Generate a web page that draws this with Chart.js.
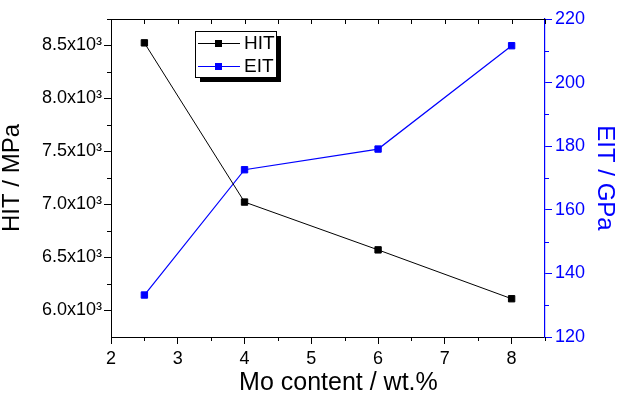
<!DOCTYPE html>
<html>
<head>
<meta charset="utf-8">
<script src="https://cdn.jsdelivr.net/npm/chart.js@4/dist/chart.umd.min.js"></script>
<style>
  html, body { margin: 0; padding: 0; background: #fff; }
  #wrap { width: 617px; height: 396px; }
</style>
</head>
<body>
<div id="wrap"><canvas id="chart"></canvas></div>
<script>
// Mo-Gehalt (wt.%) und gemessene Werte
const moContent = [2.5, 4, 6, 8];
const hitValues = [8525, 7023, 6572, 6111];
const eitValues = [133.2, 172.6, 179.1, 211.6];

// Achsenbeschriftungen
const xTicks = [2, 3, 4, 5, 6, 7, 8];
const hitTicks = [6000, 6500, 7000, 7500, 8000, 8500];
const eitTicks = [120, 140, 160, 180, 200, 220];

const FONT = "'Liberation Sans', Arial, sans-serif";
const BLUE = '#0000ff';

/**
 * Zeichnet Nebenstriche, den oberen Rahmen und die Legende mit Schatten
 */
const extras = {
    id: 'extras',
    afterDraw(chart) {
        const { ctx, chartArea: a, scales } = chart;
        const x = scales.x, y = scales.y, y2 = scales.y2;
        ctx.save();
        ctx.lineWidth = 1;

        // oberer Rahmen
        ctx.strokeStyle = '#000';
        ctx.beginPath();
        ctx.moveTo(a.left, a.top + 0.5);
        ctx.lineTo(a.right, a.top + 0.5);
        ctx.stroke();

        // x: Nebenstriche unten, alle Striche oben nach innen
        ctx.beginPath();
        for (let v = 2; v <= 8.5; v += 0.5) {
            const px = Math.round(x.getPixelForValue(v)) + 0.5;
            if (v % 1 !== 0) {
                ctx.moveTo(px, a.bottom);
                ctx.lineTo(px, a.bottom + 4);
            }
            ctx.moveTo(px, a.top);
            ctx.lineTo(px, a.top + 5);
        }
        // linke Achse
        for (let v = 6250; v <= 8750; v += 500) {
            const py = Math.round(y.getPixelForValue(v)) + 0.5;
            ctx.moveTo(a.left, py);
            ctx.lineTo(a.left - 4, py);
        }
        ctx.stroke();

        // rechte Achse
        ctx.strokeStyle = BLUE;
        ctx.beginPath();
        for (let v = 130; v <= 210; v += 20) {
            const py = Math.round(y2.getPixelForValue(v)) + 0.5;
            ctx.moveTo(a.right, py);
            ctx.lineTo(a.right + 4, py);
        }
        ctx.stroke();

        // Legende
        const bx = 195, by = 31, bw = 81, bh = 46;
        ctx.fillStyle = '#000';
        ctx.fillRect(bx + 5, by + 5, bw, bh);
        ctx.fillStyle = '#fff';
        ctx.fillRect(bx, by, bw, bh);
        ctx.strokeStyle = '#000';
        ctx.strokeRect(bx + 0.5, by + 0.5, bw, bh);

        ctx.font = '19px ' + FONT;
        ctx.textBaseline = 'middle';
        chart.data.datasets.forEach((ds, i) => {
            const ly = by + 12 + i * 23;
            ctx.strokeStyle = ds.borderColor;
            ctx.beginPath();
            ctx.moveTo(bx + 3, ly + 0.5);
            ctx.lineTo(bx + 45, ly + 0.5);
            ctx.stroke();
            ctx.fillStyle = ds.pointBackgroundColor;
            ctx.fillRect(bx + 20, ly - 3, 7, 7);
            ctx.fillStyle = '#000';
            ctx.fillText(ds.label, bx + 49, ly + 1);
        });
        ctx.restore();
    }
};

function fixTicks(values) {
    return scale => { scale.ticks = values.map(v => ({ value: v })); };
}

new Chart(document.getElementById('chart'), {
    type: 'line',
    data: {
        datasets: [{
            label: 'HIT',
            data: moContent.map((m, i) => ({ x: m, y: hitValues[i] })),
            yAxisID: 'y',
            borderColor: '#000',
            borderWidth: 1,
            pointStyle: 'rect',
            pointRadius: 4.5,
            pointBorderWidth: 1,
            pointBackgroundColor: '#000',
            pointBorderColor: '#000',
            clip: false
        }, {
            label: 'EIT',
            data: moContent.map((m, i) => ({ x: m, y: eitValues[i] })),
            yAxisID: 'y2',
            borderColor: BLUE,
            borderWidth: 1.2,
            pointStyle: 'rect',
            pointRadius: 4.5,
            pointBorderWidth: 1,
            pointBackgroundColor: BLUE,
            pointBorderColor: BLUE,
            clip: false
        }]
    },
    options: {
        responsive: true,
        maintainAspectRatio: false,
        animation: false,
        layout: { padding: { top: 19, left: 0, right: 0, bottom: 0 } },
        plugins: { legend: { display: false }, tooltip: { enabled: false } },
        scales: {
            x: {
                type: 'linear',
                min: 2, max: 8.5,
                afterBuildTicks: fixTicks(xTicks),
                afterFit: s => { s.height = 59; },
                grid: { drawOnChartArea: false, tickLength: 7, tickColor: '#000' },
                border: { color: '#000', width: 1 },
                ticks: { color: '#000', padding: 4, font: { family: FONT, size: 18 }, maxRotation: 0 },
                title: {
                    display: true, text: '   Mo content / wt.%', color: '#000',
                    font: { family: FONT, size: 25, lineHeight: 1 }, padding: { top: 0, bottom: 0 }
                }
            },
            y: {
                position: 'left',
                min: 5750, max: 8750,
                afterBuildTicks: fixTicks(hitTicks),
                afterFit: s => { s.width = 111; },
                grid: { drawOnChartArea: false, tickLength: 7, tickColor: '#000' },
                border: { color: '#000', width: 1 },
                ticks: {
                    color: '#000', padding: 2, font: { family: FONT, size: 18 },
                    callback: v => (v / 1000).toFixed(1) + 'x10³'
                },
                title: {
                    display: true, text: 'HIT / MPa', color: '#000',
                    font: { family: FONT, size: 24, lineHeight: 1 }, padding: { top: 0, bottom: 9 }
                }
            },
            y2: {
                position: 'right',
                min: 120, max: 220,
                afterBuildTicks: fixTicks(eitTicks),
                afterFit: s => { s.width = 72; },
                grid: { drawOnChartArea: false, tickLength: 7, tickColor: BLUE },
                border: { color: BLUE, width: 1.2 },
                ticks: { color: BLUE, padding: 3, font: { family: FONT, size: 18 } },
                title: {
                    display: true, text: 'EIT / GPa', color: BLUE,
                    font: { family: FONT, size: 24, lineHeight: 1 }, padding: { top: 0, bottom: 1 }
                }
            }
        }
    },
    plugins: [extras]
});
</script>
</body>
</html>
